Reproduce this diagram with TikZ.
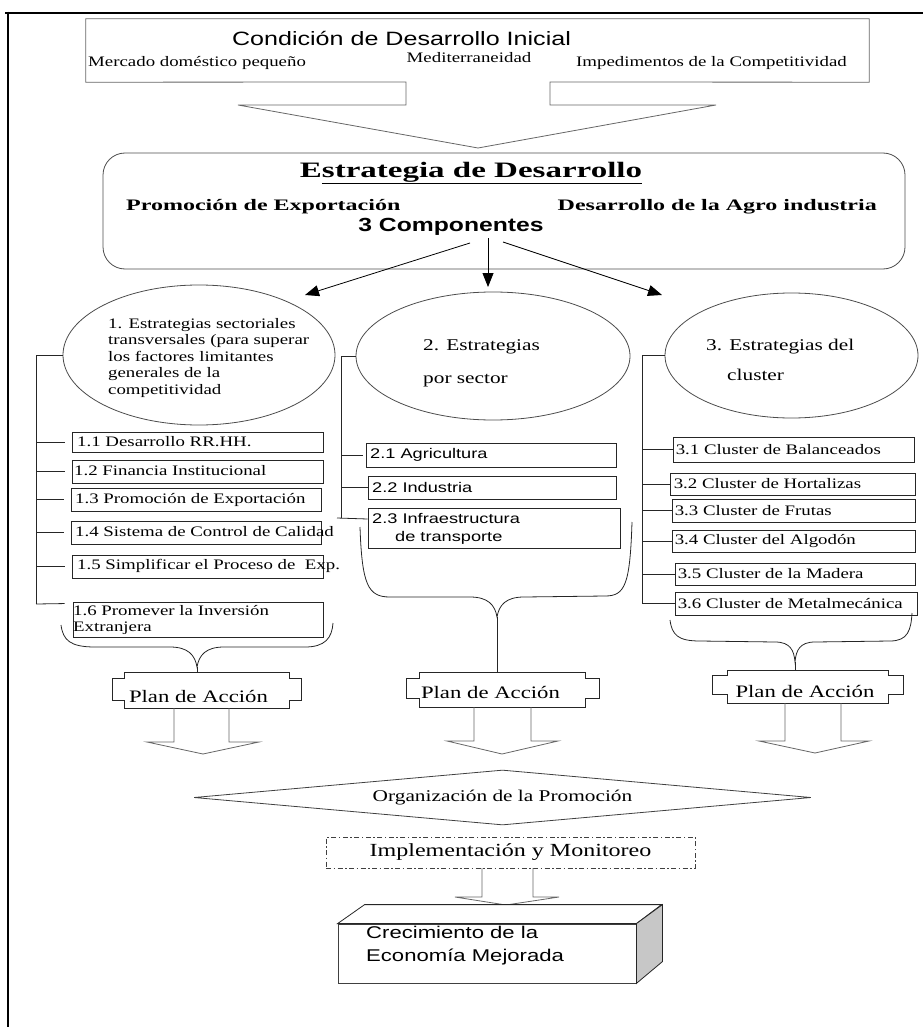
\documentclass[tikz,border=0pt]{standalone}
\usepackage{fontspec}
\setmainfont{Liberation Serif}[FakeStretch=1.3]
\setsansfont{Liberation Sans}[FakeStretch=1.3]
\newfontfamily\widefont{Liberation Serif}[FakeStretch=1.5]
\usetikzlibrary{shapes.geometric,arrows.meta,calc}
\tikzset{
  ln/.style={draw=black!85, line width=0.8pt},
  gl/.style={draw=black!60, line width=0.8pt},
  lbox/.style={draw=black!85, line width=0.9pt, inner sep=0pt},
  ell/.style={ellipse, draw=black!70, line width=0.8pt, inner sep=0pt},
  lt/.style={font=\fontsize{14.5}{16.5}\selectfont, anchor=west, inner sep=0pt, align=left},
  st/.style={font=\sffamily\fontsize{14}{18}\selectfont, anchor=west, inner sep=0pt, align=left},
  tx/.style={inner sep=0pt},
  arr/.style={draw=black, line width=0.8pt, -{Triangle[length=14pt,width=11pt]}},
}
\begin{document}
\begin{tikzpicture}[x=1pt,y=-1pt]
\useasboundingbox (0,0) rectangle (923,1027);
% frame
\draw[line width=2.6pt] (5,13) -- (923,13);
\draw[line width=2.6pt] (8,11.7) -- (8,1027);

% top condition box with open arrow
\node[minimum width=783pt, minimum height=63pt, inner sep=0pt] (cond) at (477.5,50.5) {};
\draw[gl] (cond.north west) -- (cond.north east) -- (cond.south east) -- (550,82) -- (550,105) -- (716,105) -- (478,148) -- (238,105) -- (406,105) -- (406,82) -- (cond.south west) -- cycle;
\node[tx, font=\sffamily\fontsize{19.3}{22}\selectfont] (condt) at (401.5,38) {Condición de Desarrollo Inicial};
\node[tx, font=\fontsize{14.5}{16}\selectfont, anchor=west] (c1) at (88,63) {Mercado doméstico pequeño};
\node[tx, font=\fontsize{14.5}{16}\selectfont] (c2) at (469,58) {Mediterraneidad};
\node[tx, font=\fontsize{14.5}{16}\selectfont, anchor=east] (c3) at (847,63) {Impedimentos de la Competitividad};

% strategy box
\node[draw=black!70, line width=0.8pt, rounded corners=22pt, minimum width=802pt, minimum height=116pt, inner sep=0pt] (estr) at (504,211) {};
\node[tx, font=\widefont\bfseries\fontsize{22}{26}\selectfont] (estt) at (471,173) {E\underline{strategia de Desarrollo}};
\node[tx, font=\widefont\bfseries\fontsize{16}{18}\selectfont, anchor=west] (pe) at (126,207) {Promoción de Exportación};
\node[tx, font=\widefont\bfseries\fontsize{16}{18}\selectfont, anchor=east] (da) at (877,207) {Desarrollo de la Agro industria};
\node[tx, font=\sffamily\bfseries\fontsize{19}{22}\selectfont] (comp) at (451,227) {3 Componentes};
\coordinate (s1) at (470,243);
\coordinate (s2) at (488,238);
\coordinate (s3) at (503,242);
\coordinate (t1) at (305,295);
\coordinate (t2) at (488,287);
\coordinate (t3) at (662,295);
\draw[arr] (s1) -- (t1);
\draw[arr] (s2) -- (t2);
\draw[arr] (s3) -- (t3);

% ellipses
\node[ell, minimum width=272pt, minimum height=140pt] (e1) at (199,355) {};
\node[ell, minimum width=274pt, minimum height=128pt] (e2) at (493,356) {};
\node[ell, minimum width=253pt, minimum height=125pt] (e3) at (791.5,355.5) {};
\node[lt] (e1t) at (108,358) {1. Estrategias sectoriales\\transversales (para superar\\los factores limitantes\\generales de la\\competitividad};
\node[lt, font=\fontsize{16.4}{33}\selectfont] (e2t) at (423,363) {2. Estrategias\\por sector};
\node[lt, font=\fontsize{16.4}{30}\selectfont] (e3t) at (706,360) {3. Estrategias del\\\hspace*{21pt}cluster};

% group 1 boxes
\node[lbox, minimum width=251pt, minimum height=20pt] (b11) at (197.5,442) {};
\node[lbox, minimum width=251pt, minimum height=23pt] (b12) at (197.5,471.5) {};
\node[lbox, minimum width=250pt, minimum height=23pt] (b13) at (196,499.5) {};
\node[lbox, minimum width=250pt, minimum height=23pt] (b14) at (196,532.5) {};
\node[lbox, minimum width=251pt, minimum height=23pt] (b15) at (197.5,566.5) {};
\node[lbox, minimum width=250pt, minimum height=35pt] (b16) at (198,619.5) {};
\node[lt] at (77,442) {1.1 Desarrollo RR.HH.};
\node[lt] at (74,471) {1.2 Financia Institucional};
\node[lt] at (75,499.5) {1.3 Promoción de Exportación};
\node[lt] at (75,532) {1.4 Sistema de Control de Calidad};
\node[lt] at (77,566) {1.5 Simplificar el Proceso de\ \ Exp.};
\node[lt] at (73,620) {1.6 Promever la Inversión\\Extranjera};
\coordinate (j1) at (36,355);
\coordinate (j1e) at (36,604);
\draw[ln] (e1.west) -- (j1) -- (j1e);
\foreach \b in {b11,b12,b13,b14,b15}{
  \draw[ln] (j1 |- \b.west) -- ([xshift=-7pt]\b.west);
}
\draw[ln] (j1e) -- ([xshift=-8pt,yshift=-2pt]b16.north west);

% group 2 boxes
\node[lbox, minimum width=250pt, minimum height=24pt] (b21) at (491,455) {};
\node[lbox, minimum width=248pt, minimum height=23pt] (b22) at (492,487.5) {};
\node[lbox, minimum width=252pt, minimum height=40pt] (b23) at (494,528) {};
\node[st] at (370,455) {2.1 Agricultura};
\node[st] at (372,487.5) {2.2 Industria};
\node[st] at (372,529) {2.3 Infraestructura\\\hspace*{23pt}de transporte};
\coordinate (j2) at (341,356);
\coordinate (j2e) at (341,518);
\draw[ln] (e2.west) -- (j2) -- (j2e);
\draw[ln] (j2 |- b21.west) -- ([xshift=-3pt]b21.west);
\draw[ln] (j2 |- b22.west) -- (b22.west);
\draw[ln] ([xshift=-4pt]j2e) -- ([yshift=9pt]b23.west);

% group 3 boxes
\node[lbox, minimum width=241pt, minimum height=25pt] (b31) at (793.5,449.5) {};
\node[lbox, minimum width=245pt, minimum height=22pt] (b32) at (792.5,484) {};
\node[lbox, minimum width=243pt, minimum height=23pt] (b33) at (793.5,510.5) {};
\node[lbox, minimum width=243pt, minimum height=22pt] (b34) at (793.5,541) {};
\node[lbox, minimum width=240pt, minimum height=22pt] (b35) at (795,574) {};
\node[lbox, minimum width=242pt, minimum height=23pt] (b36) at (796,603.5) {};
\node[lt] at ([xshift=3pt]b31.west) {3.1 Cluster de Balanceados};
\node[lt] at ([xshift=4pt]b32.west) {3.2 Cluster de Hortalizas};
\node[lt] at ([xshift=3pt]b33.west) {3.3 Cluster de Frutas};
\node[lt] at ([xshift=3pt]b34.west) {3.4 Cluster del Algodón};
\node[lt] at ([xshift=3pt]b35.west) {3.5 Cluster de la Madera};
\node[lt] at ([xshift=3pt]b36.west) {3.6 Cluster de Metalmecánica};
\coordinate (j3) at (642,355.5);
\coordinate (j3e) at (642,603.5);
\draw[ln] (e3.west) -- (j3) -- (j3e);
\foreach \b in {b31,b32,b33,b34,b35,b36}{
  \draw[ln] (j3 |- \b.west) -- (\b.west);
}

% braces
\draw[ln] (61,625) .. controls (63,640) and (70,647) .. (95,647) -- (170,647) .. controls (188,647) and (195,655) .. (197,667) .. controls (199,655) and (206,647) .. (224,647) -- (305,647) .. controls (325,647) and (332,638) .. (333,623);
\draw[ln] (360,527) .. controls (362,585) and (368,597) .. (390,597) -- (470,597) .. controls (488,597) and (495,605) .. (497,617) .. controls (499,605) and (506,597) .. (524,597) -- (605,596) .. controls (625,596) and (630,585) .. (632,522);
\draw[ln] (670,620) .. controls (672,635) and (678,641) .. (700,641) -- (775,642) .. controls (790,642) and (794,650) .. (795,662) .. controls (796,650) and (800,642) .. (815,642) -- (890,641) .. controls (908,641) and (911,630) .. (912,613);

% plan de accion boxes
\node[tx, font=\fontsize{17.5}{20}\selectfont] (p1) at (198.5,696) {Plan de Acción};
\node[tx, font=\fontsize{17.5}{20}\selectfont] (p2) at (490.5,692) {Plan de Acción};
\node[tx, font=\fontsize{17.5}{20}\selectfont] (p3) at (805,691) {Plan de Acción};
\draw[ln] (124,672) -- (289,672) -- (289,678) -- (301,678) -- (301,700) -- (289,700) -- (289,708) -- (124,708) -- (124,700) -- (112,700) -- (112,678) -- (124,678) -- cycle;
\draw[ln] (419,672) -- (585,672) -- (585,678) -- (599,678) -- (599,698) -- (585,698) -- (585,707) -- (419,707) -- (419,698) -- (406,698) -- (406,678) -- (419,678) -- cycle;
\draw[ln] (727,670) -- (888,670) -- (888,675) -- (903,675) -- (903,694) -- (888,694) -- (888,703) -- (727,703) -- (727,694) -- (712,694) -- (712,675) -- (727,675) -- cycle;
\draw[ln] (197,667) -- (197,672);
\draw[ln] (497,617) -- (497,672);
\draw[ln] (795,662) -- (795,670);

% hollow arrows
\draw[gl] (174,708) -- (174,742) -- (147,742) -- (203,754) -- (259,742) -- (229,742) -- (229,708);
\draw[gl] (474,707) -- (474,741) -- (447,741) -- (502,754) -- (558,741) -- (531,741) -- (531,707);
\draw[gl] (785,703) -- (785,741) -- (759,741) -- (815,753) -- (869,741) -- (841,741) -- (841,703);

% diamond
\node[diamond, draw=black!75, line width=0.8pt, aspect=11.2, minimum width=617pt, minimum height=55pt, inner sep=0pt, font=\fontsize{16.4}{18}\selectfont] (org) at (502.5,797.5) {Organización de la Promoción};

% implementation
\node[draw=black!75, line width=0.8pt, dash pattern=on 5pt off 2.5pt on 1.5pt off 2.5pt, minimum width=369pt, minimum height=31pt, inner sep=0pt, font=\fontsize{18.5}{20}\selectfont] (impl) at (510.5,852.5) {Implementación y Monitoreo};
\draw[gl] (482,868) -- (482,897) -- (455,897) -- (506,905) -- (559,897) -- (533,897) -- (533,868);

% 3D box
\node[draw=black!75, line width=0.8pt, fill=white, minimum width=298pt, minimum height=59pt, inner sep=0pt] (front) at (487,953.5) {};
\draw[ln, fill=white] (front.north west) -- ++(27,-19) -- ++(297,0) -- (front.north east) -- cycle;
\draw[ln, fill=black!22] (front.north east) -- ++(26,-19) -- ++(0,57) -- (front.south east) -- cycle;
\node[tx, font=\sffamily\fontsize{17}{23}\selectfont, anchor=west, align=left] (gt) at (366,945.5) {Crecimiento de la\\Economía Mejorada};
\end{tikzpicture}
\end{document}
